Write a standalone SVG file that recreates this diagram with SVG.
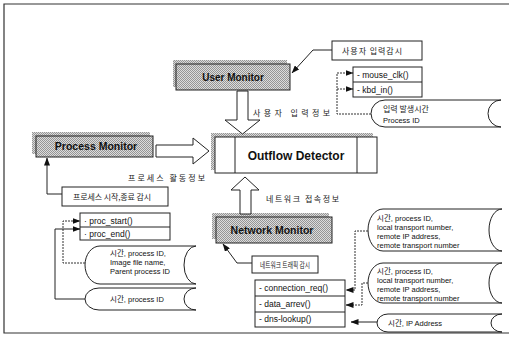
<svg xmlns="http://www.w3.org/2000/svg" width="509" height="337" viewBox="0 0 509 337">
<defs>
<pattern id="dots" patternUnits="userSpaceOnUse" width="2" height="2">
<rect width="2" height="2" fill="#dcdcdc"/>
<rect width="1" height="1" fill="#959595"/>
<rect x="1" y="1" width="1" height="1" fill="#959595"/>
</pattern>
<marker id="ah" markerWidth="8" markerHeight="6" refX="7.5" refY="3" orient="auto" markerUnits="userSpaceOnUse">
<path d="M0,0 L8,3 L0,6 Z" fill="#111"/>
</marker>
</defs>
<style>
.frame{fill:none;stroke:#333;stroke-width:1.2}
.box{fill:#fff;stroke:#222;stroke-width:1}
.mon{fill:url(#dots);stroke:#222;stroke-width:1}
.shadow{fill:url(#dots);stroke:none}
.doc{fill:#fff;stroke:#222;stroke-width:1}
.blk{fill:#fff;stroke:#222;stroke-width:1}
.line{fill:none;stroke:#222;stroke-width:1}
.dot{fill:none;stroke:#333;stroke-width:1;stroke-dasharray:2 1}
.title{font-family:"Liberation Sans",Arial,sans-serif;font-weight:bold;fill:#111}
.en{font-family:"Liberation Sans",Arial,"Noto Sans CJK KR",sans-serif;font-size:8.5px;fill:#111}
.sm{font-family:"Liberation Sans",Arial,"Noto Sans CJK KR",sans-serif;font-size:7.5px;fill:#111}
.kr{font-family:"Noto Sans CJK KR","Liberation Sans",sans-serif;font-size:8px;fill:#222}
</style>

<path class="frame" d="M509,4 H4 V333 H509"/>

<g id="user-monitor">
<rect class="shadow" x="173" y="60" width="114" height="27"/>
<rect class="mon" x="176" y="64" width="114" height="26"/>
<text class="title" x="233" y="81" font-size="10" text-anchor="middle">User Monitor</text>
</g>

<g id="user-input-watch">
<rect class="box" x="332" y="41" width="90" height="19"/>
<text class="kr" x="342" y="54" textLength="60" lengthAdjust="spacing">사용자 입력감시</text>
</g>

<g id="user-methods">
<rect class="box" x="353" y="67" width="69" height="30"/>
<line class="line" x1="353" y1="82" x2="422" y2="82"/>
<text class="en" x="357" y="78">- mouse_clk()</text>
<text class="en" x="357" y="93">- kbd_in()</text>
</g>

<g id="user-data">
<path class="doc" d="M385,100 H501 A13,13.5 0 0 0 501,127 H385 A14,13.5 0 0 1 385,100 Z"/>
<text class="kr" x="383" y="112" font-size="7.5">입력 발생시간</text>
<text class="sm" x="383" y="123">Process ID</text>
</g>

<g id="outflow-detector">
<rect class="shadow" x="211" y="133" width="162" height="37"/>
<rect class="box" x="215" y="137" width="162" height="36"/>
<line class="line" x1="235" y1="137" x2="235" y2="173"/>
<line class="line" x1="357" y1="137" x2="357" y2="173"/>
<text class="title" x="296" y="160" font-size="12" text-anchor="middle">Outflow Detector</text>
</g>

<g id="process-monitor">
<rect class="shadow" x="32" y="132" width="118" height="22"/>
<rect class="mon" x="36" y="136" width="117" height="21"/>
<text class="title" x="96" y="150" font-size="10.5" text-anchor="middle">Process Monitor</text>
</g>

<g id="process-watch">
<rect class="box" x="62" y="187" width="106" height="19"/>
<text class="kr" x="73" y="200" textLength="78" lengthAdjust="spacing">프로세스 시작,종료 감시</text>
</g>

<g id="process-methods">
<rect class="box" x="80" y="213" width="90" height="27"/>
<line class="line" x1="80" y1="227" x2="170" y2="227"/>
<text class="en" x="84" y="224">· proc_start()</text>
<text class="en" x="84" y="237">· proc_end()</text>
</g>

<g id="process-data1">
<path class="doc" d="M100,246 H196 A12,19 0 0 0 196,284 H100 A15,19 0 0 1 100,246 Z"/>
<text class="sm" x="110" y="256">시간, process ID,</text>
<text class="sm" x="110" y="265">Image file name,</text>
<text class="sm" x="110" y="274">Parent process ID</text>
</g>

<g id="process-data2">
<path class="doc" d="M99,288 H196 A12,11 0 0 0 196,310 H99 A14,11 0 0 1 99,288 Z"/>
<text class="sm" x="110" y="302">시간, process ID</text>
</g>

<g id="network-monitor">
<rect class="shadow" x="212" y="213" width="117" height="26"/>
<rect class="mon" x="216" y="217" width="116" height="26"/>
<text class="title" x="272" y="234" font-size="10.5" text-anchor="middle">Network Monitor</text>
</g>

<g id="network-watch">
<rect class="box" x="252" y="256" width="66" height="17"/>
<text class="kr" x="260" y="267.5" font-size="6" textLength="50" lengthAdjust="spacingAndGlyphs">네트워크 트래픽 감시</text>
</g>

<g id="network-methods">
<rect class="box" x="255" y="280" width="90" height="47"/>
<line class="line" x1="255" y1="296" x2="345" y2="296"/>
<line class="line" x1="255" y1="312" x2="345" y2="312"/>
<text class="en" x="259" y="291">- connection_req()</text>
<text class="en" x="259" y="307">- data_arrev()</text>
<text class="en" x="259" y="322">- dns-lookup()</text>
</g>

<g id="network-data1">
<path class="doc" d="M383,209 H502 A13,21 0 0 0 502,251 H383 A15,21 0 0 1 383,209 Z"/>
<text class="sm" x="377" y="221">시간, process ID,</text>
<text class="sm" x="377" y="230">local transport number,</text>
<text class="sm" x="377" y="239">remote IP address,</text>
<text class="sm" x="377" y="248">remote transport number</text>
</g>

<g id="network-data2">
<path class="doc" d="M383,263 H502 A13,20 0 0 0 502,303 H383 A15,20 0 0 1 383,263 Z"/>
<text class="sm" x="377" y="274">시간, process ID,</text>
<text class="sm" x="377" y="283">local transport number,</text>
<text class="sm" x="377" y="292">remote IP address,</text>
<text class="sm" x="377" y="301">remote transport number</text>
</g>

<g id="network-data3">
<path class="doc" d="M388,314 H502 A11,9 0 0 0 502,332 H388 A11,9 0 0 1 388,314 Z"/>
<text class="sm" x="388" y="326">시간, IP Address</text>
</g>

<g id="connectors">
<polygon class="blk" points="237,91 248,91 248,120 260,120 242.5,134 225,120 237,120"/>
<polygon class="blk" points="245,177 259,190 251,190 251,214 240,214 240,190 231,190"/>
<polygon class="blk" points="156,145 193,145 193,138 209,151 193,164 193,157 156,157"/>
<text class="kr" x="253" y="116" textLength="77" lengthAdjust="spacing">사용자 입력정보</text>
<text class="kr" x="128" y="181" textLength="77" lengthAdjust="spacing">프로세스 활동정보</text>
<text class="kr" x="266" y="202" textLength="73" lengthAdjust="spacing">네트워크 접속정보</text>

<path class="line" d="M332,50 H313 L292,73" marker-end="url(#ah)"/>
<path class="dot" d="M371,114 H337 V73 H353" marker-end="url(#ah)"/>
<path class="dot" d="M337,89 H353" marker-end="url(#ah)"/>

<path class="line" d="M62,194 H47 V158" marker-end="url(#ah)"/>
<path class="dot" d="M85,263 H63 V221 H80" marker-end="url(#ah)"/>
<path class="line" d="M85,299 H55 V229 H80" marker-end="url(#ah)"/>

<path class="line" d="M252,263 H237 L223,244" marker-end="url(#ah)"/>
<path class="dot" d="M368,231 H355 V290 H346" marker-end="url(#ah)"/>
<path class="dot" d="M368,283 H362 V305 H346" marker-end="url(#ah)"/>
<path class="line" d="M377,322 H351" marker-end="url(#ah)"/>
</g>
</svg>
